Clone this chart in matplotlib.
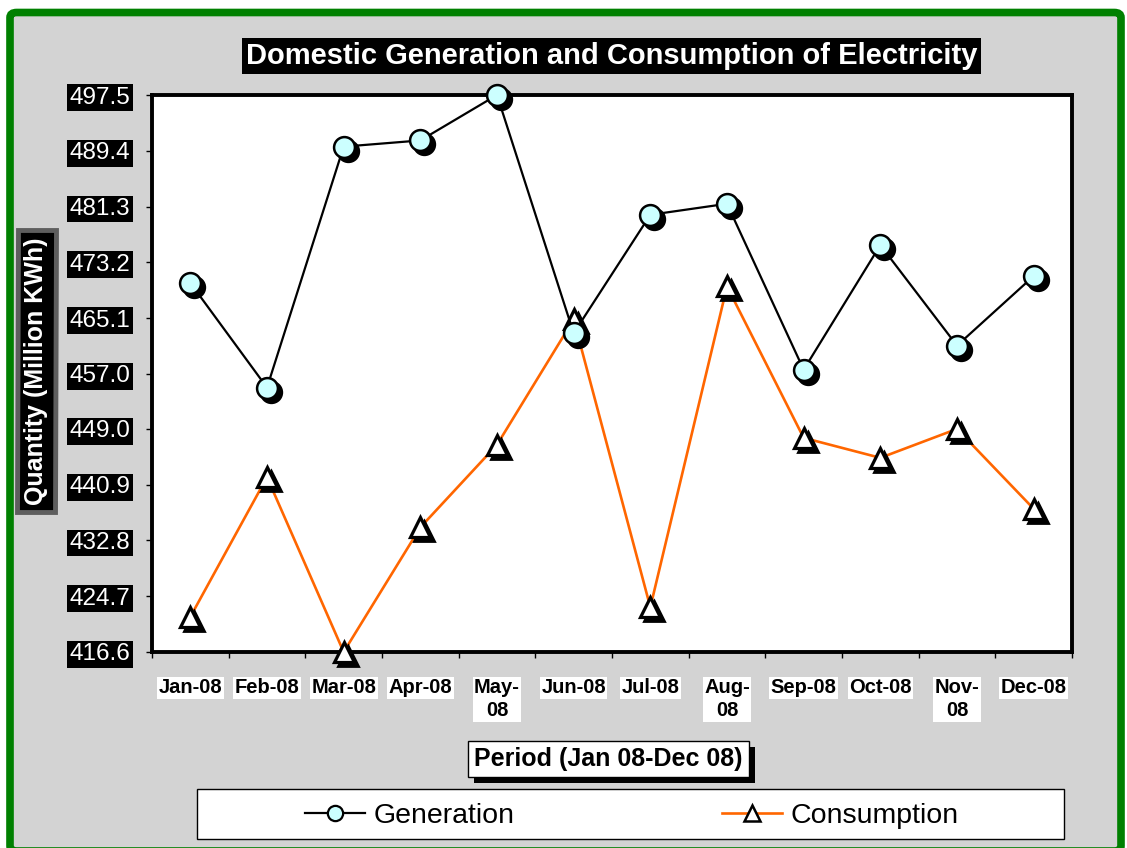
import matplotlib
matplotlib.use("Agg")
import matplotlib.pyplot as plt
import numpy as np
from matplotlib.patches import FancyBboxPatch, Rectangle
from matplotlib.lines import Line2D
from matplotlib.transforms import ScaledTranslation

plt.rcParams['font.family'] = ['Liberation Sans', 'DejaVu Sans']

# ---------------- data ----------------
months = ["Jan-08", "Feb-08", "Mar-08", "Apr-08", "May-\n08", "Jun-08",
          "Jul-08", "Aug-\n08", "Sep-08", "Oct-08", "Nov-\n08", "Dec-08"]
generation = [470.2, 455.0, 490.0, 490.9, 497.5, 462.9,
              480.1, 481.7, 457.6, 475.7, 461.1, 471.2]
consumption = [421.7, 442.0, 416.6, 434.7, 446.7, 464.9,
               423.1, 469.7, 447.7, 444.8, 449.0, 437.4]
ytick_vals = [416.6, 424.7, 432.8, 440.9, 449.0, 457.0, 465.1, 473.2, 481.3, 489.4, 497.5]
ytick_labels = ["416.6", "424.7", "432.8", "440.9", "449.0", "457.0",
                "465.1", "473.2", "481.3", "489.4", "497.5"]
title = "Domestic Generation and Consumption of Electricity"
xlabel = "Period (Jan 08-Dec 08)"
ylabel = "Quantity (Million KWh)"
series_names = ["Generation", "Consumption"]

W, H = 1127, 848
def fx(x):
    return x / W
def fy(y):
    return 1 - y / H

fig = plt.figure(figsize=(W / 100, H / 100), dpi=100)
fig.patch.set_facecolor('white')

# background with green frame
bg = FancyBboxPatch((fx(10), fy(851)), fx(1121) - fx(10), fy(12.5) - fy(851),
                    boxstyle="round,pad=0,rounding_size=0.006",
                    transform=fig.transFigure, facecolor='#d3d3d3',
                    edgecolor='#008000', linewidth=5.5, zorder=-5)
fig.patches.append(bg)

# axes
ax = fig.add_axes([fx(152), fy(652), (1072 - 152) / W, (652 - 95) / H])
ax.set_zorder(2)
ax.set_facecolor('white')
x = np.arange(len(months))
ax.set_xlim(-0.5, len(months) - 0.5)
ax.set_ylim(ytick_vals[0], ytick_vals[-1])
for s in ax.spines.values():
    s.set_linewidth(2.8)
    s.set_color('black')

shadow = ax.transData + ScaledTranslation(4 / 100, -4 / 100, fig.dpi_scale_trans)

# consumption
ax.plot(x, consumption, color='#FF6600', lw=1.9, zorder=3, clip_on=False)
ax.plot(x, consumption, ls='none', marker='^', ms=14.5, mfc='black', mec='black',
        mew=2, transform=shadow, zorder=4, clip_on=False)
ax.plot(x, consumption, ls='none', marker='^', ms=14.5, mfc='white', mec='black',
        mew=2.3, zorder=5, clip_on=False)

# generation
ax.plot(x, generation, color='black', lw=1.6, zorder=6, clip_on=False)
ax.plot(x, generation, ls='none', marker='o', ms=15, mfc='black', mec='black',
        mew=1.8, transform=shadow, zorder=7, clip_on=False)
ax.plot(x, generation, ls='none', marker='o', ms=15, mfc='#CCFFFF', mec='black',
        mew=1.8, zorder=8, clip_on=False)

# y ticks
ax.set_yticks(ytick_vals, labels=ytick_labels)
ax.tick_params(axis='y', direction='out', length=4.5, width=1, pad=11,
               labelsize=17.5, labelcolor='white')
for lab in ax.get_yticklabels():
    lab.set_bbox(dict(facecolor='black', edgecolor='none', pad=1.8))

# x ticks
ax.set_xticks(x, labels=months)
ax.set_xticks(np.arange(-0.5, len(months)), minor=True)
ax.tick_params(axis='x', which='major', length=0, pad=19, labelsize=14.5)
ax.tick_params(axis='x', which='minor', direction='out', length=4.5, width=1)
for lab in ax.get_xticklabels():
    lab.set_fontweight('bold')
    lab.set_linespacing(1.25)
    lab.set_verticalalignment('top')
    lab.set_bbox(dict(facecolor='white', edgecolor='none', pad=1))

# title
fig.text(fx(611.5), fy(56), title, ha='center', va='center', fontsize=21,
         fontweight='bold', color='white',
         bbox=dict(facecolor='black', edgecolor='none', pad=3))

# y label
fig.text(fx(36.5), fy(371), ylabel, ha='center', va='center', rotation=90,
         fontsize=18, fontweight='bold', color='white',
         bbox=dict(facecolor='black', edgecolor='#5e5e5e', linewidth=3.5, pad=5))

# x label with shadow box
xl = fig.text(fx(608.5), fy(759), xlabel, ha='center', va='center', fontsize=18,
              fontweight='bold', color='black', zorder=3,
              bbox=dict(facecolor='white', edgecolor='black', linewidth=1, pad=4.5))

# legend box
lb = Rectangle((fx(197), fy(839)), (1064 - 197) / W, (839 - 789) / H,
               transform=fig.transFigure, facecolor='white', edgecolor='black',
               linewidth=1, zorder=1)
fig.patches.append(lb)
handles = [
    Line2D([], [], color='black', lw=1.6, marker='o', ms=11, mfc='#CCFFFF',
           mec='black', mew=1.6),
    Line2D([], [], color='#FF6600', lw=1.9, marker='^', ms=12, mfc='white',
           mec='black', mew=1.8),
]
fig.legend(handles, series_names, loc='center',
           bbox_to_anchor=(fx(632), fy(816)), ncol=2, frameon=False,
           fontsize=20.5, handlelength=2.1, handletextpad=0.3,
           columnspacing=7.3)

fig.canvas.draw()
bb = xl.get_bbox_patch().get_window_extent(fig.canvas.get_renderer())
sh = Rectangle((bb.x0 + 6, bb.y0 - 6), bb.width, bb.height, transform=None,
               facecolor='black', edgecolor='black', linewidth=0, zorder=2)
fig.patches.append(sh)

fig.savefig("out.png", dpi=100, facecolor=fig.get_facecolor())
